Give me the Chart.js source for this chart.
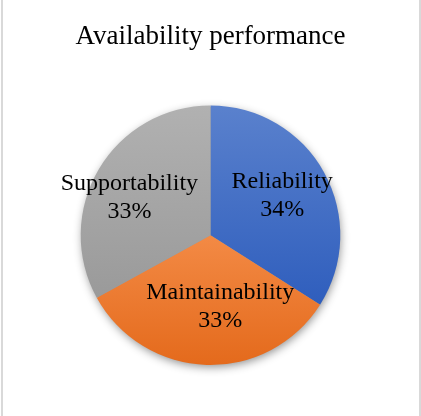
<!DOCTYPE html>
<html>
<head>
<meta charset="utf-8">
<script src="https://cdn.jsdelivr.net/npm/chart.js@4/dist/chart.umd.min.js"></script>
<style>
  html, body { margin: 0; padding: 0; background: #fff; }
</style>
</head>
<body>
<canvas id="chart1" width="421" height="416"></canvas>
<script>
var categories = ['Reliability', 'Maintainability', 'Supportability'];
var shares = [34, 33, 33];

// light (top) and dark (bottom) end of each slice's fill
var topColors = ['#5A81CD', '#F38A45', '#B1B1B1'];
var bottomColors = ['#2F5EBD', '#E46A1C', '#9A9A9A'];

// label spot: fraction of the radius along the slice middle, plus a pixel nudge
var labelSpots = [
    { r: 0.63, dx: 0, dy: 0 },
    { r: 0.55, dx: 12, dy: 0 },
    { r: 0.69, dx: -4, dy: 8 }
];

var serif = "'Liberation Serif', 'Times New Roman', serif";

function sliceGeometry(chart, index) {
    var area = chart.chartArea;
    var total = shares.reduce(function (a, b) { return a + b; }, 0);
    var before = 0;
    for (var i = 0; i < index; i++) before += shares[i];
    var start = -Math.PI / 2 + 2 * Math.PI * before / total;
    var end = start + 2 * Math.PI * shares[index] / total;
    var cx = (area.left + area.right) / 2;
    var cy = (area.top + area.bottom) / 2;
    var r = Math.min(area.right - area.left, area.bottom - area.top) / 2;
    return { cx: cx, cy: cy, r: r, start: start, end: end };
}

function sliceFill(context) {
    var chart = context.chart;
    var i = context.dataIndex;
    if (!chart.chartArea) return topColors[i];
    var g = sliceGeometry(chart, i);
    var ys = [g.cy, g.cy + g.r * Math.sin(g.start), g.cy + g.r * Math.sin(g.end)];
    if (g.start <= -Math.PI / 2 + 1e-6) ys.push(g.cy - g.r);
    if (g.start < Math.PI / 2 && g.end > Math.PI / 2) ys.push(g.cy + g.r);
    if (g.end >= 3 * Math.PI / 2 - 1e-6) ys.push(g.cy - g.r);
    var y0 = Math.min.apply(null, ys);
    var y1 = Math.max.apply(null, ys);
    var grad = chart.ctx.createLinearGradient(0, y0, 0, y1);
    grad.addColorStop(0, topColors[i]);
    grad.addColorStop(1, bottomColors[i]);
    return grad;
}

// soft shadow under the pie, and the thin frame lines at the sides
var pieShadow = {
    id: 'pieShadow',
    beforeDatasetsDraw: function (chart) {
        var g = sliceGeometry(chart, 0);
        var ctx = chart.ctx;
        ctx.save();
        ctx.shadowColor = 'rgba(0,0,0,0.45)';
        ctx.shadowBlur = 10;
        ctx.shadowOffsetX = 1;
        ctx.shadowOffsetY = 3;
        ctx.fillStyle = '#999';
        ctx.beginPath();
        ctx.arc(g.cx, g.cy, g.r - 1, 0, 2 * Math.PI);
        ctx.fill();
        ctx.restore();
    },
    afterDraw: function (chart) {
        var ctx = chart.ctx;
        ctx.save();
        ctx.fillStyle = '#D9D9D9';
        ctx.fillRect(1, 0, 2, chart.height);
        ctx.fillRect(chart.width - 2, 0, 2, chart.height);
        ctx.restore();
    }
};

// category name and percentage inside each slice
var sliceLabels = {
    id: 'sliceLabels',
    afterDatasetsDraw: function (chart) {
        var ctx = chart.ctx;
        var meta = chart.getDatasetMeta(0);
        var total = shares.reduce(function (a, b) { return a + b; }, 0);
        ctx.save();
        ctx.font = '24px ' + serif;
        ctx.fillStyle = '#000';
        ctx.textAlign = 'center';
        ctx.textBaseline = 'middle';
        meta.data.forEach(function (arc, i) {
            var p = arc.getProps(['x', 'y', 'startAngle', 'endAngle', 'outerRadius'], true);
            var mid = (p.startAngle + p.endAngle) / 2;
            var spot = labelSpots[i];
            var x = p.x + Math.cos(mid) * p.outerRadius * spot.r + spot.dx;
            var y = p.y + Math.sin(mid) * p.outerRadius * spot.r + spot.dy;
            var pct = Math.round(shares[i] / total * 100) + '%';
            ctx.fillText(categories[i], x, y - 14);
            ctx.fillText(pct, x, y + 14);
        });
        ctx.restore();
    }
};

var ctx = document.getElementById('chart1').getContext('2d');
var chart = new Chart(ctx, {
    type: 'pie',
    data: {
        labels: categories,
        datasets: [{
            data: shares,
            backgroundColor: sliceFill,
            borderWidth: 0
        }]
    },
    options: {
        responsive: false,
        animation: false,
        layout: { padding: { top: 0, bottom: 51, left: 0, right: 0 } },
        plugins: {
            legend: { display: false },
            tooltip: { enabled: false },
            title: {
                display: true,
                text: 'Availability performance',
                color: '#000',
                font: { family: serif, size: 27, weight: 'normal' },
                padding: { top: 21, bottom: 52 }
            }
        }
    },
    plugins: [pieShadow, sliceLabels]
});
</script>
</body>
</html>
